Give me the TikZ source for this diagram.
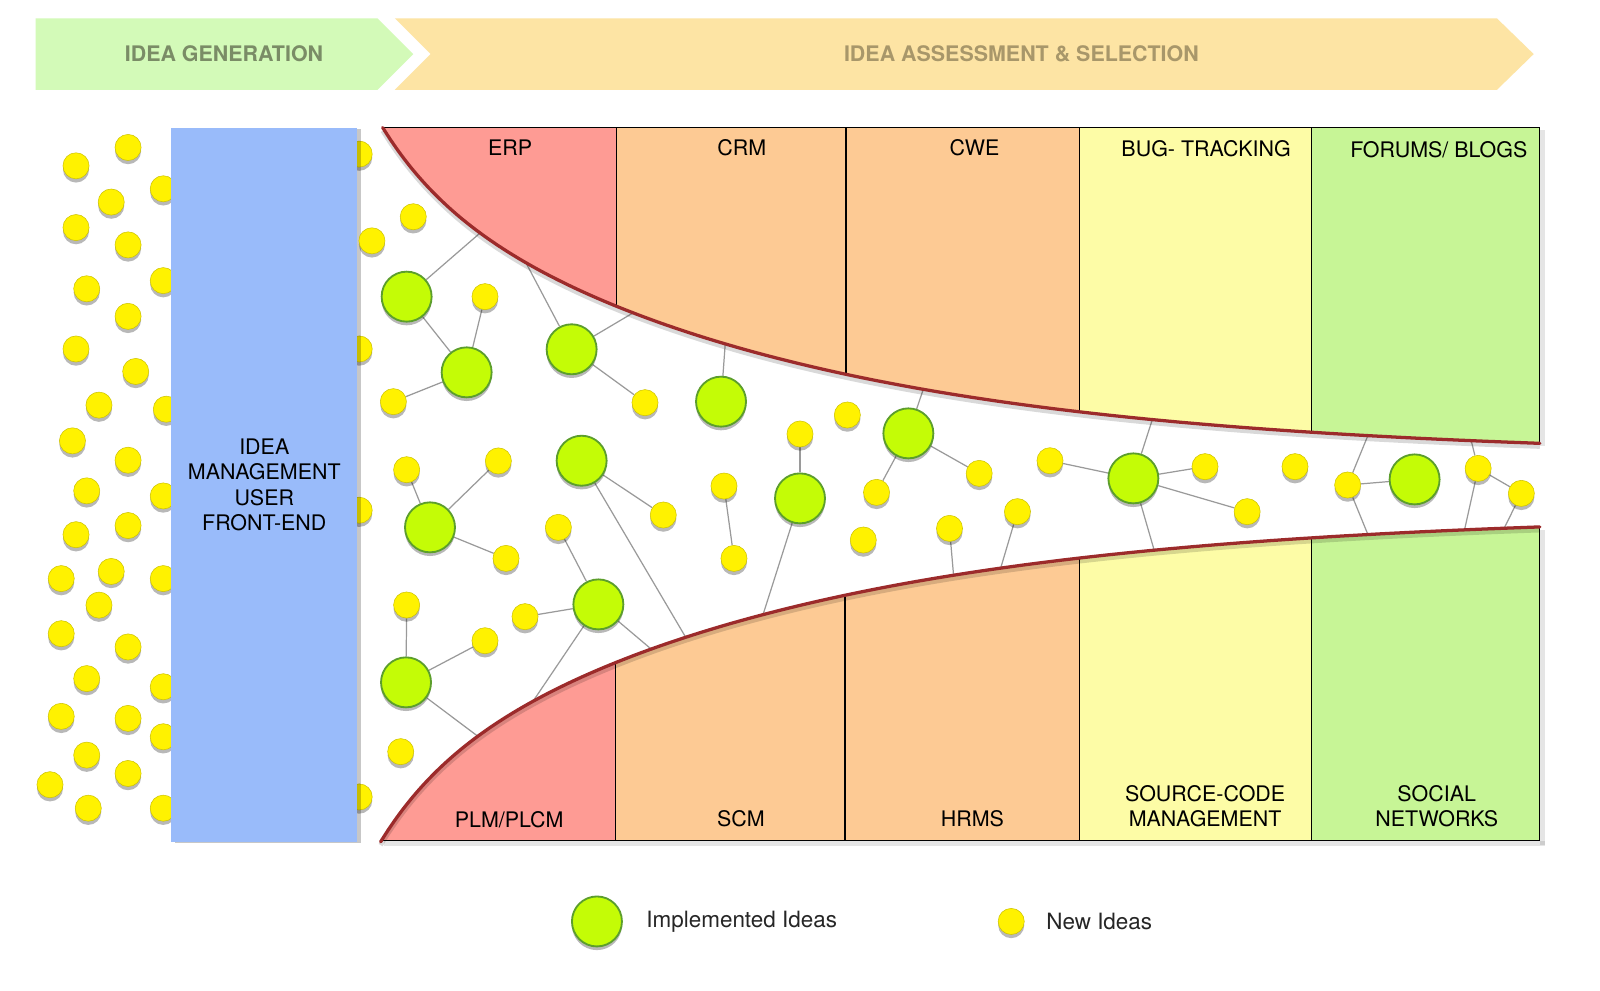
\documentclass[tikz,border=0pt]{standalone}
\usepackage{fontspec}
\setmainfont{TeX Gyre Heros}
\usetikzlibrary{shadows,calc}
\definecolor{bannergreen}{HTML}{D3FAB8}
\definecolor{bannerorange}{HTML}{FDE4A4}
\definecolor{bannergreentext}{HTML}{7A8C66}
\definecolor{bannerorangetext}{HTML}{A8976A}
\definecolor{pinkbox}{HTML}{FE9B94}
\definecolor{orangebox}{HTML}{FDCA94}
\definecolor{yellowbox}{HTML}{FDFCA6}
\definecolor{greenbox}{HTML}{C7F596}
\definecolor{bluebox}{HTML}{99BBFA}
\definecolor{funnelred}{HTML}{9C2B2B}
\definecolor{ideayellow}{HTML}{FFF200}
\definecolor{implgreen}{HTML}{C4FC06}
\definecolor{impledge}{HTML}{5C9E2C}
\definecolor{linkgray}{HTML}{9A9A9A}
\pgfdeclarelayer{bg}
\pgfdeclarelayer{links}
\pgfdeclarelayer{boxes}
\pgfsetlayers{bg,links,boxes,main}
\tikzset{
  dotshadow/.style={drop shadow={shadow xshift=0pt, shadow yshift=-1.8pt, opacity=0.28, fill=black}},
  newidea/.style={circle, fill=ideayellow, draw=ideayellow!80!black, line width=0.25pt, minimum size=12.8pt, inner sep=0pt, dotshadow},
  impl/.style={circle, fill=implgreen, draw=impledge, line width=0.9pt, minimum size=24.5pt, inner sep=0pt, dotshadow},
  link/.style={draw=linkgray, line width=0.6pt},
  boxline/.style={draw=black, line width=0.6pt},
  funnelcurve/.style={draw=funnelred, line width=1.6pt, line cap=round},
  curveshadow/.style={draw=black, opacity=0.15, line width=2.2pt},
  bannertext/.style={font=\bfseries\fontsize{10.5}{12}\selectfont, inner sep=0pt},
  boxlabel/.style={font=\fontsize{10.5}{12.25}\selectfont, text=black, inner sep=0pt, align=center},
  legendtext/.style={font=\fontsize{11}{13}\selectfont, text=black!85, inner sep=0pt, anchor=west},
  frontend/.style={rectangle, fill=bluebox, minimum width=91pt, minimum height=350pt, inner sep=0pt,
    align=center, font=\fontsize{10.5}{12.5}\selectfont,
    drop shadow={shadow xshift=1.8pt, shadow yshift=-0.8pt, opacity=0.22, fill=black}},
  topwall/.style={domain=375:1509, samples=160, smooth},
  botwall/.style={domain=373:1509, samples=160, smooth}
}
\def\topf#1{125+55*(1-exp(-(#1-375)/60))+268*(1-exp(-(#1-375)/380))}
\def\botf#1{825-56*(1-exp(-(#1-373)/60))-266*(1-exp(-(#1-373)/380))}
\begin{document}
\begin{tikzpicture}[x=0.5pt, y=-0.5pt]
\useasboundingbox (0,0) rectangle (1568,971);
\begin{pgfonlayer}{bg}
\fill[white] (0,0) rectangle (1568,971);
\end{pgfonlayer}

% banners
\fill[bannergreen] (35,18) -- (370,18) -- (405,53) -- (370,88) -- (35,88) -- cycle;
\node[bannertext, text=bannergreentext] (bgen) at (219.5,53) {IDEA GENERATION};
\fill[bannerorange] (387,18) -- (1467,18) -- (1503,53) -- (1467,88) -- (387,88) -- (422,53) -- cycle;
\node[bannertext, text=bannerorangetext] (bass) at (1001,53) {IDEA ASSESSMENT \& SELECTION};

% funnel boxes
\begin{pgfonlayer}{boxes}
  \fill[black, opacity=0.1] (1509,127) rectangle (1514,437);
  \fill[black, opacity=0.1] (1509,519) rectangle (1514,828);
  \fill[black, opacity=0.1] (376,824) rectangle (1514,829);
  \begin{scope}
    \clip plot[topwall] (\x, {\topf{\x}}) -- (1509,125) -- (375,125) -- cycle;
    \fill[pinkbox] (370,115) rectangle (604,460);
    \fill[orangebox] (604,115) rectangle (1058,460);
    \fill[yellowbox] (1058,115) rectangle (1285,460);
    \fill[greenbox] (1285,115) rectangle (1515,460);
    \draw[boxline] (604,115) -- (604,460);
    \draw[boxline] (829,115) -- (829,460);
    \draw[boxline] (1058,115) -- (1058,460);
    \draw[boxline] (1285,115) -- (1285,460);
  \end{scope}
  \draw[boxline] (375,125) -- (1509,125) -- (1509,{\topf{1509}});
  \draw[curveshadow, yshift=-1.6pt] plot[topwall] (\x, {\topf{\x}});
  \draw[funnelcurve] plot[topwall] (\x, {\topf{\x}});

  \begin{scope}
    \clip plot[botwall] (\x, {\botf{\x}}) -- (1509,824) -- (373,824) -- cycle;
    \fill[pinkbox] (365,480) rectangle (603,830);
    \fill[orangebox] (603,480) rectangle (1058,830);
    \fill[yellowbox] (1058,480) rectangle (1285,830);
    \fill[greenbox] (1285,480) rectangle (1515,830);
    \draw[boxline] (603,480) -- (603,830);
    \draw[boxline] (828,480) -- (828,830);
    \draw[boxline] (1058,480) -- (1058,830);
    \draw[boxline] (1285,480) -- (1285,830);
  \end{scope}
  \draw[boxline] (373,824) -- (1509,824) -- (1509,{\botf{1509}});
  \draw[curveshadow, yshift=-1.6pt] plot[botwall] (\x, {\botf{\x}});
  \draw[funnelcurve] plot[botwall] (\x, {\botf{\x}});
\end{pgfonlayer}

% box labels
\node[boxlabel] (lerp) at (500,145) {ERP};
\node[boxlabel] (lcrm) at (727,145) {CRM};
\node[boxlabel] (lcwe) at (955,145) {CWE};
\node[boxlabel] (lbug) at (1182,146) {BUG- TRACKING};
\node[boxlabel] (lfor) at (1410,147) {FORUMS/ BLOGS};
\node[boxlabel] (lplm) at (499,803) {PLM/PLCM};
\node[boxlabel] (lscm) at (726,802) {SCM};
\node[boxlabel] (lhrm) at (953,802) {HRMS};
\node[boxlabel] (lsrc) at (1181,790) {SOURCE-CODE\\MANAGEMENT};
\node[boxlabel] (lsoc) at (1408,790) {SOCIAL\\NETWORKS};

% left cloud of new ideas
\foreach \n/\px/\py in {1/125.5/144.5, 2/74.5/162.5, 3/160/185, 4/109/198, 5/74.5/223, 6/125.5/240,
  7/160/275, 8/85/283, 9/125.5/310, 10/74.5/342, 11/133/364, 12/97/397, 13/163/401, 14/71/432,
  15/125.5/451, 16/85/481, 17/160/486, 18/74.5/524, 19/125.5/515, 20/109/560, 21/60/567, 22/160/567,
  23/97/593, 24/60/621, 25/125.5/634, 26/85/665, 27/160/673, 28/60/702, 29/125.5/704, 30/160/722,
  31/85/740, 32/49/769, 33/125.5/758, 34/86.5/792, 35/160/792,
  36/352/151, 37/352/342, 38/352/500, 39/352/781}
  \node[newidea] (l\n) at (\px,\py) {};

% front-end box
\node[frontend] (fe) at (259,475) {IDEA\\MANAGEMENT\\USER\\FRONT-END};

% implemented ideas
\node[impl] (g1) at (398.5,290.7) {};
\node[impl] (g2) at (457.3,364.9) {};
\node[impl] (g3) at (560.2,342.3) {};
\node[impl] (g4) at (706.6,393.6) {};
\node[impl] (g5) at (570,451.5) {};
\node[impl] (g6) at (421.4,516.8) {};
\node[impl] (g7) at (784,488.4) {};
\node[impl] (g8) at (890.2,424.7) {};
\node[impl] (g9) at (586.4,592.3) {};
\node[impl] (g10) at (397.9,668.7) {};
\node[impl] (g11) at (1110.7,468.8) {};
\node[impl] (g12) at (1386.3,469.8) {};

% new ideas in the funnel
\foreach \n/\px/\py in {1/405/212.4, 2/364.5/236, 3/475.3/290.7, 4/385.5/393.6, 5/632.1/394.6,
  6/830.4/406.7, 7/784/425.3, 8/398.5/460.3, 9/488.4/451.7, 10/650/504.7, 11/709.5/476.3,
  12/547.2/516.8, 13/495.9/547.2, 14/719.3/547.2, 15/859/482.5, 16/846/529.2, 17/959.6/463.9,
  18/1029/451.5, 19/1180.9/457.3, 20/1269.1/457.3, 21/1320.7/475.3, 22/1448.6/459,
  23/1490.9/483.5, 24/997.1/501.4, 25/930.5/517.8, 26/1222.2/501.4, 27/514.5/604.3,
  28/398.5/592.9, 29/475.3/627.9, 30/392.7/736.6}
  \node[newidea] (y\n) at (\px,\py) {};

% attachment points, a little inside the wall
\coordinate (tA) at ($(g1)!1.18!(478,221.8)$);
\coordinate (tB) at ($(g3)!1.15!(509.3,245.9)$);
\coordinate (tC) at ($(g3)!1.2!(632.7,299.3)$);
\coordinate (tD) at ($(g4)!1.3!(711.1,331.7)$);
\coordinate (tE) at ($(g8)!1.35!(906,378)$);
\coordinate (tF) at ($(g11)!1.25!(1130,408.9)$);
\coordinate (tG) at ($(y21)!1.3!(1342.4,422.2)$);
\coordinate (tH) at ($(y22)!1.4!(1439.6,423.4)$);
\coordinate (bA) at ($(g10)!1.15!(475.2,726.7)$);
\coordinate (bB) at ($(g9)!1.1!(516.5,695.9)$);
\coordinate (bC) at ($(g9)!1.2!(641.5,638.9)$);
\coordinate (bD) at ($(g5)!1.08!(673.8,627.6)$);
\coordinate (bE) at ($(g7)!1.12!(747.3,603.8)$);
\coordinate (bF) at ($(y25)!1.3!(934.6,565)$);
\coordinate (bG) at ($(y24)!1.3!(981.7,553.2)$);
\coordinate (bH) at ($(g11)!1.2!(1130.6,537.5)$);
\coordinate (bI) at ($(y21)!1.25!(1341.5,526.2)$);
\coordinate (bJ) at ($(y22)!1.2!(1433.8,525.6)$);
\coordinate (bK) at ($(y23)!1.3!(1471,523.9)$);

\begin{pgfonlayer}{links}
  \draw[link] (g1) -- (tA);
  \draw[link] (g3) -- (tB);
  \draw[link] (g3) -- (tC);
  \draw[link] (g4) -- (tD);
  \draw[link] (g8) -- (tE);
  \draw[link] (g11) -- (tF);
  \draw[link] (y21) -- (tG);
  \draw[link] (y22) -- (tH);
  \draw[link] (g10) -- (bA);
  \draw[link] (g9) -- (bB);
  \draw[link] (g9) -- (bC);
  \draw[link] (g5) -- (bD);
  \draw[link] (g7) -- (bE);
  \draw[link] (y25) -- (bF);
  \draw[link] (y24) -- (bG);
  \draw[link] (g11) -- (bH);
  \draw[link] (y21) -- (bI);
  \draw[link] (y22) -- (bJ);
  \draw[link] (y23) -- (bK);
  \draw[link] (g1) -- (g2);
  \draw[link] (g2) -- (y3);
  \draw[link] (g2) -- (y4);
  \draw[link] (g3) -- (y5);
  \draw[link] (y8) -- (g6);
  \draw[link] (g6) -- (y9);
  \draw[link] (g6) -- (y13);
  \draw[link] (g5) -- (y10);
  \draw[link] (y11) -- (y14);
  \draw[link] (y7) -- (g7);
  \draw[link] (y12) -- (g9);
  \draw[link] (g9) -- (y27);
  \draw[link] (y28) -- (g10);
  \draw[link] (g10) -- (y29);
  \draw[link] (g8) -- (y15);
  \draw[link] (g8) -- (y17);
  \draw[link] (y18) -- (g11);
  \draw[link] (g11) -- (y19);
  \draw[link] (g11) -- (y26);
  \draw[link] (y21) -- (g12);
  \draw[link] (y22) -- (y23);
\end{pgfonlayer}

% legend
\node[impl] (legimpl) at (585,903) {};
\node[legendtext] (legimpltext) at (633,903) {Implemented Ideas};
\node[newidea] (legnew) at (991,903) {};
\node[legendtext] (legnewtext) at (1025,903) {New Ideas};
\end{tikzpicture}
\end{document}
